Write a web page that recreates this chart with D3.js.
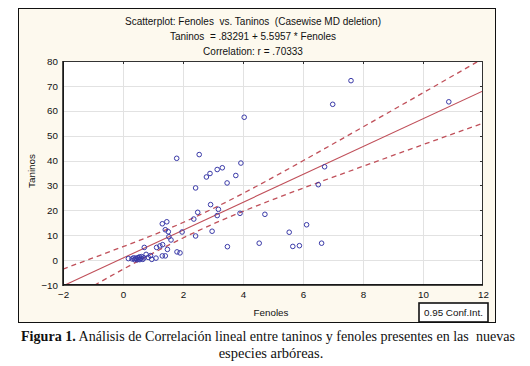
<!DOCTYPE html>
<html><head><meta charset="utf-8">
<script src="https://cdn.jsdelivr.net/npm/d3@7"></script>
<style>
html,body{margin:0;padding:0;background:#fff;}
svg{display:block;}
text{white-space:pre;}
</style></head>
<body>
<script>
// ---- data ----
const fenoles = [7.60,6.99,10.86,4.04,2.54,1.79,3.93,6.72,3.31,3.14,2.90,2.78,3.76,3.47,6.51,2.42,2.92,3.18,2.49,3.90,3.14,4.73,2.36,6.12,1.31,1.46,1.41,1.51,1.97,2.97,5.54,1.53,1.60,2.42,4.54,6.62,3.48,5.66,5.88,0.71,1.12,1.23,1.32,1.48,1.80,1.90,1.31,1.41,1.10,0.77,0.92,0.96,0.84,0.18,0.30,0.38,0.42,0.47,0.50,0.53,0.56,0.60,0.62,0.45,0.35,0.66,0.55,0.70];
const taninos = [72.1,62.6,63.6,57.4,42.4,40.9,39.0,37.5,37.1,36.4,34.8,33.4,34.0,31.0,30.3,29.0,22.3,20.4,19.2,18.8,17.9,18.4,16.5,14.2,14.6,15.4,12.2,11.4,11.3,11.6,11.2,9.4,8.1,9.7,6.8,6.8,5.4,5.5,5.8,5.1,5.1,5.7,6.2,4.3,3.3,2.9,1.7,1.7,0.8,2.3,1.8,0.3,1.1,0.6,0.5,0.2,0.8,0.1,1.0,0.4,0.2,0.7,1.4,0.5,0.9,0.3,1.3,0.9];
const regIntercept = 0.83291, regSlope = 5.5957;
const bandX = [-2,0,2,4,6,8,10,12];
const bandUpper = [-3.6,5.4,15.1,26.8,39.9,53.5,67.2,81.0];
const bandLower = [-17.2,-3.7,8.9,19.6,28.9,37.7,46.4,55.0];
const xTicks = [-2,0,2,4,6,8,10,12];
const yTicks = [-10,0,10,20,30,40,50,60,70,80];
const titleLines = ["Scatterplot: Fenoles  vs. Taninos  (Casewise MD deletion)","Taninos  = .83291 + 5.5957 * Fenoles","Correlation: r = .70333"];
const xLabel = "Fenoles", yLabel = "Taninos", legendText = "0.95 Conf.Int.";

// ---- drawing ----
const W=530,H=366;
const svg=d3.select("body").append("svg").attr("width",W).attr("height",H);
const sans="Arial, 'Liberation Sans', sans-serif";
svg.append("rect").attr("x",18.5).attr("y",8.5).attr("width",477).attr("height",314)
  .attr("fill","#fdf9ee").attr("stroke","#111").attr("stroke-width",1);

const L=63,R=483,T=61,B=285;
const x=d3.scaleLinear().domain([-2,12]).range([L,R]);
const y=d3.scaleLinear().domain([-10,80]).range([B,T]);

svg.append("rect").attr("x",L).attr("y",T).attr("width",R-L).attr("height",B-T).attr("fill","#fff");

// grid
const g=svg.append("g");
g.selectAll(".vg").data(xTicks.slice(1,-1)).join("line")
  .attr("x1",d=>x(d)+.5).attr("x2",d=>x(d)+.5).attr("y1",T).attr("y2",B).attr("stroke","#e2e2e2").attr("stroke-width",1);
g.selectAll(".hg").data(yTicks.slice(1,-1)).join("line")
  .attr("y1",d=>Math.round(y(d))+.5).attr("y2",d=>Math.round(y(d))+.5).attr("x1",L).attr("x2",R).attr("stroke","#e2e2e2").attr("stroke-width",1);

// clip
svg.append("clipPath").attr("id","pc").append("rect").attr("x",L).attr("y",T).attr("width",R-L).attr("height",B-T);
const pg=svg.append("g").attr("clip-path","url(#pc)");
const red="#c0505a";
pg.append("line").attr("x1",x(-2)).attr("y1",y(regIntercept+regSlope*-2)).attr("x2",x(12)).attr("y2",y(regIntercept+regSlope*12))
  .attr("stroke",red).attr("stroke-width",1.1);
const bl=d3.line().x((d,i)=>x(bandX[i])).y(d=>y(d)).curve(d3.curveNatural);
[bandUpper,bandLower].forEach(b=>pg.append("path").attr("d",bl(b)).attr("fill","none").attr("stroke",red)
  .attr("stroke-width",1.3).attr("stroke-dasharray","5,4"));

// points
svg.append("g").selectAll("circle").data(fenoles).join("circle")
  .attr("cx",(d)=>x(d)).attr("cy",(d,i)=>y(taninos[i])).attr("r",2.3)
  .attr("fill","none").attr("stroke","#3a3aa8").attr("stroke-width",1);

// axes frame
svg.append("rect").attr("x",L+.5).attr("y",T+.5).attr("width",R-L-1).attr("height",B-T-1)
  .attr("fill","none").attr("stroke","#333").attr("stroke-width",1);
svg.append("line").attr("x1",L).attr("x2",L).attr("y1",T).attr("y2",B+1).attr("stroke","#111").attr("stroke-width",1.5);
svg.append("line").attr("x1",L).attr("x2",R).attr("y1",B).attr("y2",B).attr("stroke","#111").attr("stroke-width",1.5);

// inward ticks on top/right
svg.append("g").selectAll("line").data(xTicks.slice(1,-1)).join("line")
  .attr("x1",d=>x(d)+.5).attr("x2",d=>x(d)+.5).attr("y1",T).attr("y2",T+3).attr("stroke","#333");
svg.append("g").selectAll("line").data(yTicks.slice(1,-1)).join("line")
  .attr("y1",d=>Math.round(y(d))+.5).attr("y2",d=>Math.round(y(d))+.5).attr("x1",R-3).attr("x2",R).attr("stroke","#333");

// axes via d3
const xa=svg.append("g").attr("transform",`translate(0,${B})`).call(d3.axisBottom(x).tickValues(xTicks).tickSize(0).tickPadding(6).tickFormat(d3.format("d")));
const ya=svg.append("g").attr("transform",`translate(${L},0)`).call(d3.axisLeft(y).tickValues(yTicks).tickSize(0).tickPadding(5).tickFormat(d3.format("d")));
[xa,ya].forEach(a=>{a.select(".domain").remove();a.selectAll("text").attr("font-family",sans).attr("font-size",9.8).attr("fill","#111");});

// titles
svg.append("g").selectAll("text").data(titleLines).join("text")
  .attr("x",253).attr("y",(d,i)=>24.5+i*15).attr("text-anchor","middle")
  .attr("font-family",sans).attr("font-size",10).attr("fill","#111").text(d=>d);
svg.append("text").attr("x",271).attr("y",316).attr("text-anchor","middle").attr("font-family",sans).attr("font-size",9.8).attr("fill","#111").text(xLabel);
svg.append("text").attr("transform","translate(35,171) rotate(-90)").attr("text-anchor","middle").attr("font-family",sans).attr("font-size",9.8).attr("fill","#111").text(yLabel);

// legend box
svg.append("rect").attr("x",419).attr("y",303).attr("width",69).attr("height",19).attr("fill","#fff").attr("stroke","#111").attr("stroke-width",1.6);
svg.append("text").attr("x",453.5).attr("y",316).attr("text-anchor","middle").attr("font-family",sans).attr("font-size",9.8).attr("fill","#111").text(legendText);

// caption
const serif="'Times New Roman','Liberation Serif',serif";
const cap=svg.append("text").attr("x",268).attr("y",341).attr("text-anchor","middle").attr("font-family",serif).attr("font-size",14.5).attr("fill","#111")
  .attr("textLength",494).attr("lengthAdjust","spacingAndGlyphs");
cap.append("tspan").attr("font-weight","bold").text("Figura 1.");
cap.append("tspan").text(" Análisis de Correlación lineal entre taninos y fenoles presentes en las  nuevas");
svg.append("text").attr("x",271).attr("y",358).attr("text-anchor","middle").attr("font-family",serif).attr("font-size",14.5).attr("fill","#111").text("especies arbóreas.");
</script>
</body></html>
